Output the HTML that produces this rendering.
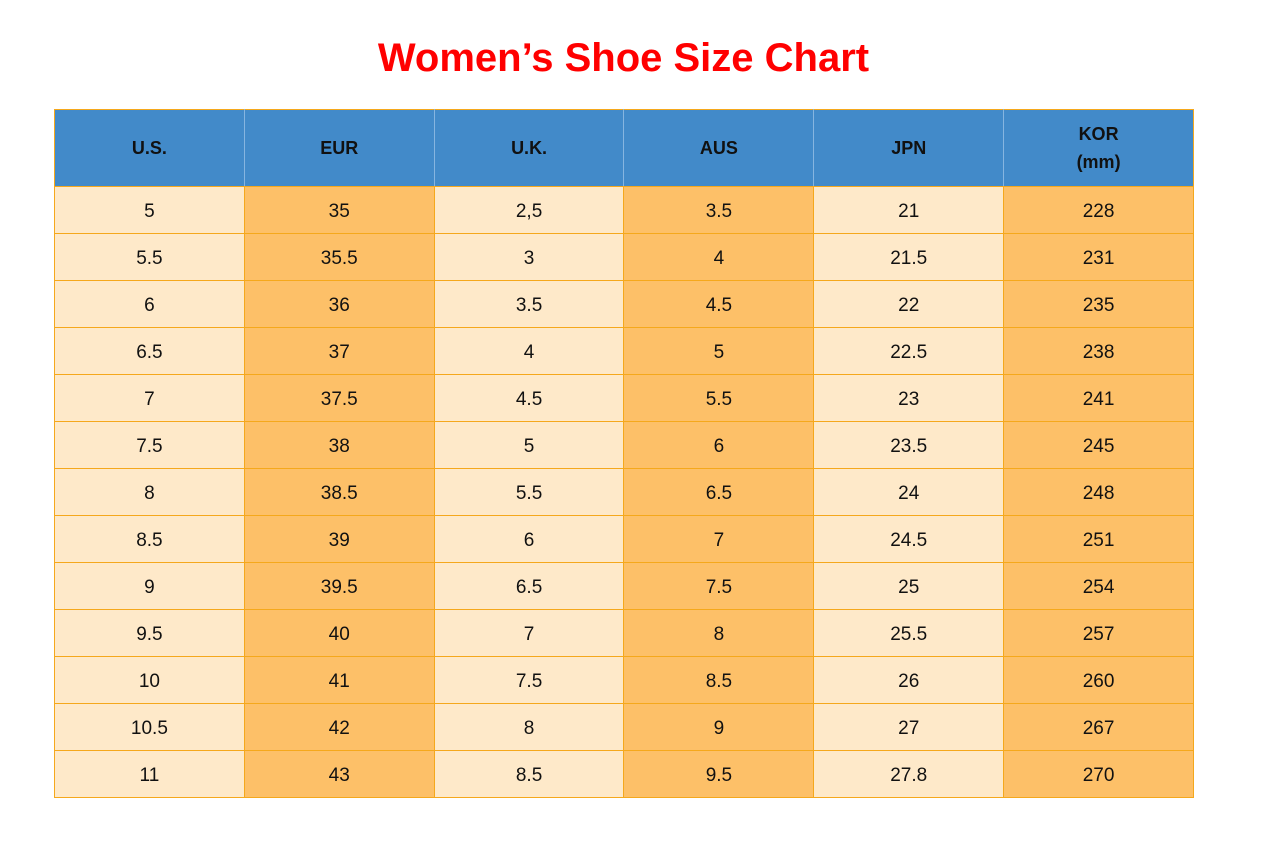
<!DOCTYPE html>
<html><head><style>
body{margin:0;background:#fff;width:1266px;height:841px;font-family:"Liberation Sans",Arial,sans-serif;}
h1{position:absolute;left:54px;width:1139px;top:35px;margin:0;text-align:center;color:#ff0000;font-size:40px;font-weight:bold;line-height:46px;}
table{position:absolute;left:54px;top:109px;border-collapse:collapse;width:1140px;}
td,th{border:1px solid #f5a81c;width:188px;text-align:center;font-size:19px;color:#111;padding:0;}
th{background:#428ac9;height:76px;font-size:18px;font-weight:bold;color:#111;line-height:28px;border-color:#f5a81c;border-left-color:#86b5e0;border-right-color:#86b5e0;}
th:first-child{border-left-color:#f5a81c}th:last-child{border-right-color:#f5a81c}
td{height:47px;box-sizing:border-box;padding-top:4px;}
td:nth-child(odd){background:#fee9c9}
td:nth-child(even){background:#fdc068}
</style></head><body>
<h1>Women’s Shoe Size Chart</h1>
<table>
<tr><th>U.S.</th><th>EUR</th><th>U.K.</th><th>AUS</th><th>JPN</th><th>KOR<br>(mm)</th></tr>
<tr><td>5</td><td>35</td><td>2,5</td><td>3.5</td><td>21</td><td>228</td></tr>
<tr><td>5.5</td><td>35.5</td><td>3</td><td>4</td><td>21.5</td><td>231</td></tr>
<tr><td>6</td><td>36</td><td>3.5</td><td>4.5</td><td>22</td><td>235</td></tr>
<tr><td>6.5</td><td>37</td><td>4</td><td>5</td><td>22.5</td><td>238</td></tr>
<tr><td>7</td><td>37.5</td><td>4.5</td><td>5.5</td><td>23</td><td>241</td></tr>
<tr><td>7.5</td><td>38</td><td>5</td><td>6</td><td>23.5</td><td>245</td></tr>
<tr><td>8</td><td>38.5</td><td>5.5</td><td>6.5</td><td>24</td><td>248</td></tr>
<tr><td>8.5</td><td>39</td><td>6</td><td>7</td><td>24.5</td><td>251</td></tr>
<tr><td>9</td><td>39.5</td><td>6.5</td><td>7.5</td><td>25</td><td>254</td></tr>
<tr><td>9.5</td><td>40</td><td>7</td><td>8</td><td>25.5</td><td>257</td></tr>
<tr><td>10</td><td>41</td><td>7.5</td><td>8.5</td><td>26</td><td>260</td></tr>
<tr><td>10.5</td><td>42</td><td>8</td><td>9</td><td>27</td><td>267</td></tr>
<tr><td>11</td><td>43</td><td>8.5</td><td>9.5</td><td>27.8</td><td>270</td></tr>
</table>
</body></html>
